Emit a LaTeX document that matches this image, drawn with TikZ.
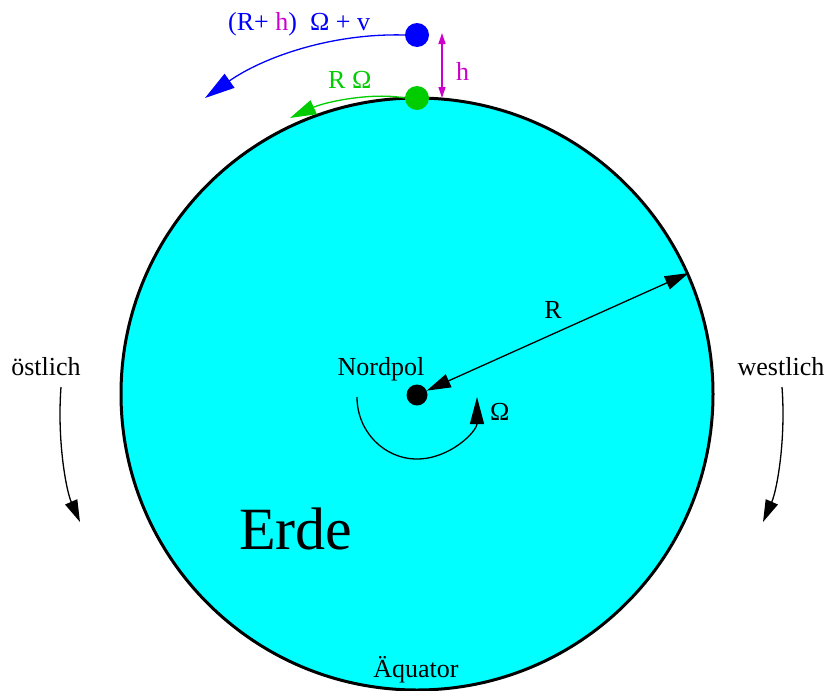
\documentclass[tikz,border=0pt]{standalone}
\usepackage{fontspec}
\setmainfont{Liberation Serif}
\usetikzlibrary{arrows.meta}
\definecolor{earthcol}{RGB}{0,255,255}
\definecolor{satblue}{RGB}{0,0,255}
\definecolor{gndgreen}{RGB}{0,204,0}
\definecolor{hcol}{RGB}{204,0,204}
\begin{document}
\begin{tikzpicture}[x=1pt,y=-1pt,
  lbl/.style={font=\fontsize{26}{30}\selectfont, inner sep=0pt},
  dotnode/.style={circle, inner sep=0pt, minimum size=#1},
  thinarrow/.style={line width=1.3pt},
  bigtip/.style={-{Triangle[length=22pt,width=13pt]}}
]
\useasboundingbox (0,0) rectangle (828,691);
% Earth
\node[circle, fill=earthcol, draw=black, line width=3pt, minimum size=592pt, inner sep=0pt] (earth) at (417,394) {};
% centre dot
\node[dotnode=21pt, fill=black] (cdot) at (417,395) {};
% satellites
\node[dotnode=24pt, fill=satblue] (sat) at (417,35) {};
\node[dotnode=24pt, fill=gndgreen] (gdot) at (417,98) {};
% coordinates for free arrow ends
\coordinate (bt) at (205,98);
\coordinate (gt) at (290,118);
\coordinate (htop) at (442,33);
\coordinate (hbot) at (442,98);
\coordinate (arcstart) at (357,397);
\coordinate (ostart) at (61,387);
\coordinate (oend) at (80,522);
\coordinate (wstart) at (782,387);
\coordinate (wend) at (763,522);
% blue arrow
\draw[satblue, thinarrow, -{Triangle[length=30pt,width=17pt]}] (sat.west) .. controls (330,33) and (262,58) .. (bt);
% green arrow
\draw[gndgreen, thinarrow, -{Triangle[length=26pt,width=15pt]}] (gdot.west) .. controls (372,92) and (325,102) .. (gt);
% h arrow
\draw[hcol, thinarrow, {Triangle[length=11pt,width=7pt]}-{Triangle[length=11pt,width=7pt]}] (htop) -- (hbot);
% radius arrow
\draw[black, thinarrow, {Triangle[length=24pt,width=14pt]}-{Triangle[length=24pt,width=14pt]}] (cdot) -- (earth.24.5);
% rotation arc
\draw[black, thinarrow, -{Triangle[length=27pt,width=14pt]}] (arcstart) arc[start angle=180, end angle=0, x radius=60, y radius=62];
% east / west arrows
\draw[black, thinarrow, bigtip] (ostart) .. controls (57,440) and (66,490) .. (oend);
\draw[black, thinarrow, bigtip] (wstart) .. controls (786,440) and (777,490) .. (wend);
% labels
\node[lbl, anchor=base west, text=satblue] (blab) at (228,30) {(R+ \textcolor{hcol}{h})\ \ Ω + v};
\node[lbl, anchor=base west, text=gndgreen] (glab) at (328,88) {R Ω};
\node[lbl, anchor=base west, text=hcol] (hlab) at (456,80) {h};
\node[lbl, anchor=base] (rlab) at (553,318) {R};
\node[lbl, anchor=base] (nlab) at (381,375) {Nordpol};
\node[lbl, anchor=base west] (olab) at (490,420) {Ω};
\node[lbl, anchor=base] (east) at (46,375) {östlich};
\node[lbl, anchor=base] (west) at (781,375) {westlich};
\node[lbl, anchor=base] (aeq) at (416,677) {Äquator};
\node[font=\fontsize{60}{70}\selectfont, inner sep=0pt, anchor=base west] (erde) at (239,549) {Erde};
\end{tikzpicture}
\end{document}
